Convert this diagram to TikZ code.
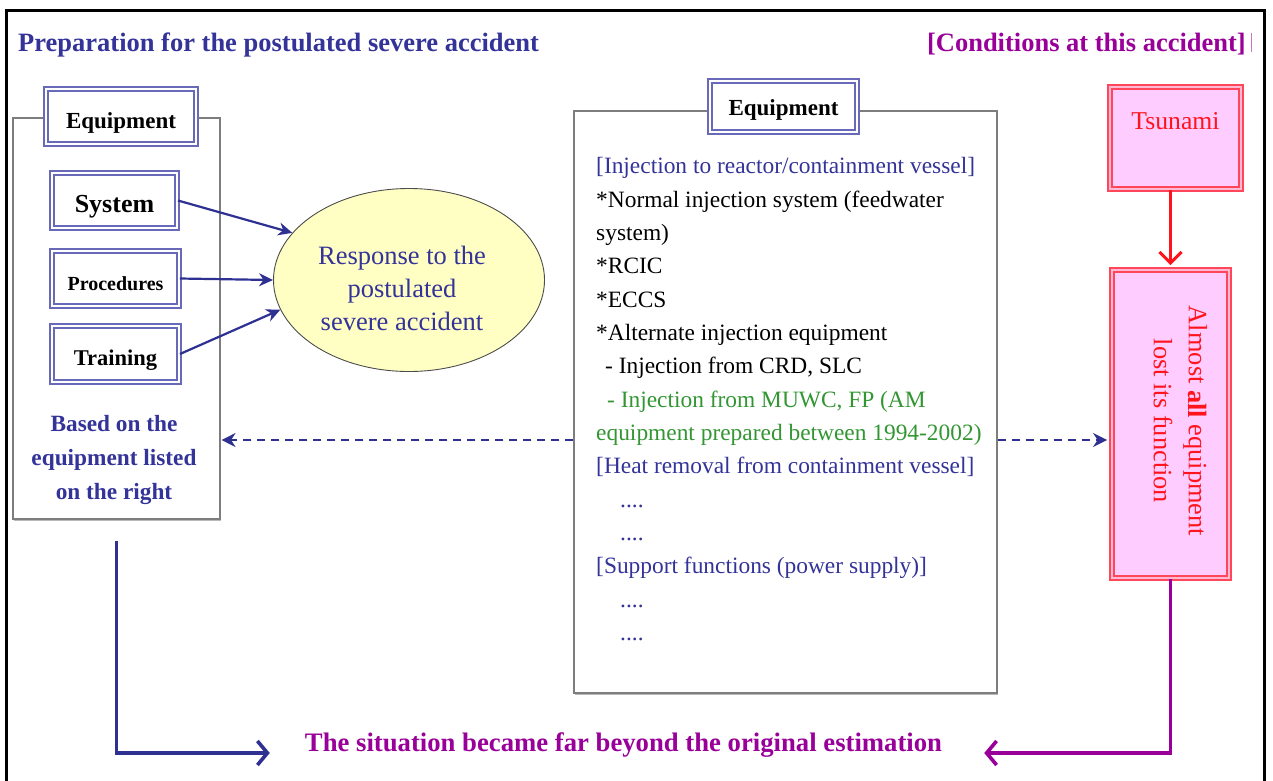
\documentclass[tikz,border=0pt]{standalone}
\usepackage{fontspec}
\setmainfont{Liberation Serif}
\usetikzlibrary{shapes.geometric,arrows.meta,shadows,calc}

\definecolor{navytext}{RGB}{51,51,153}
\definecolor{navyline}{RGB}{46,49,146}
\definecolor{boxblue}{RGB}{105,105,185}
\definecolor{plum}{RGB}{153,0,153}
\definecolor{leafgreen}{RGB}{51,150,51}
\definecolor{alarmred}{RGB}{255,20,30}
\definecolor{redframe}{RGB}{255,70,90}
\definecolor{redgap}{RGB}{255,185,210}
\definecolor{pinkfill}{RGB}{255,204,255}
\definecolor{paleyellow}{RGB}{255,255,196}
\definecolor{panelgray}{RGB}{125,125,125}

\newcommand\fsz[2]{\fontsize{#1}{#2}\selectfont}

\begin{document}
\begin{tikzpicture}[x=1pt,y=-1pt,
  panel/.style={draw=panelgray, line width=1.1pt, fill=white, inner sep=0pt,
    drop shadow={shadow xshift=1.2pt, shadow yshift=-1.8pt, fill=black!55}},
  titlebox/.style={draw=boxblue, line width=1.9pt, double=white, double distance=2pt,
    fill=white, inner sep=0pt, text height=24pt, text depth=0pt,
    font=\fsz{23}{26}\bfseries},
  alarmbox/.style={draw=redframe, line width=1.9pt, double=redgap, double distance=2pt,
    fill=pinkfill, inner sep=0pt},
  listline/.style={anchor=base west, inner sep=0pt, font=\fsz{23.4}{28}},
  navyarrow/.style={draw=navyline, line width=2.2pt,
    -{Stealth[length=14pt,width=13pt,inset=4.5pt]}},
  dashflow/.style={draw=navyline, line width=2pt, dash pattern=on 8pt off 6pt,
    -{Stealth[length=14pt,width=14pt,inset=4.5pt]}},
  navyflow/.style={draw=navyline, line width=3.6pt,
    -{Straight Barb[length=10pt,width=24pt]}},
  plumflow/.style={draw=plum, line width=3.6pt,
    -{Straight Barb[length=10pt,width=24pt]}},
  redflow/.style={draw=alarmred, line width=3pt,
    -{Straight Barb[length=11pt,width=22pt]}}
]
\useasboundingbox (0,0) rectangle (1273,780);

% outer frame (runs past the lower edge of the page)
\draw[line width=3pt] (6.5,10.5) rectangle (1264.5,810);

% headings
\node[anchor=base west, inner sep=0pt, text=navytext, font=\fsz{26.5}{30}\bfseries]
  (preptitle) at (18,51) {Preparation for the postulated severe accident};
\node[anchor=base east, inner sep=0pt, text=plum, font=\fsz{26.5}{30}\bfseries]
  (condtitle) at (1246,51) {[Conditions at this accident]};
\draw[plum!55, line width=0.8pt] ([xshift=5pt,yshift=-1pt]condtitle.north east)
  -- ([xshift=5pt,yshift=3pt]condtitle.south east);

% left column: preparation
\node[panel, minimum width=207pt, minimum height=401pt] (leftpanel) at (116.5,318.5) {};
\node[titlebox, minimum width=150pt, minimum height=55pt] (eqleft) at (121,116.5) {Equipment};
\node[titlebox, minimum width=125pt, minimum height=55pt, font=\fsz{26}{30}\bfseries]
  (sys) at (114.5,200.5) {System};
\node[titlebox, minimum width=127pt, minimum height=55pt, font=\fsz{20}{24}\bfseries]
  (proc) at (115.5,278.5) {Procedures};
\node[titlebox, minimum width=127pt, minimum height=56pt, font=\fsz{22.5}{26}\bfseries,
  text height=22pt] (train) at (115.5,354) {Training};
\node[inner sep=0pt, align=center, text=navytext, font=\fsz{23.3}{34}\bfseries]
  (basedtext) at (114,460) {Based on the\\equipment listed\\on the right};

% response ellipse
\node[ellipse, draw=black!70, line width=0.9pt, fill=paleyellow,
  minimum width=271pt, minimum height=183pt] (resp) at (409,280) {};
\node[inner sep=0pt, align=center, text=navytext, font=\fsz{26.5}{33}]
  (resptext) at (402,288) {Response to the\\postulated\\severe accident};

\draw[navyarrow] (sys.east) -- (resp.158);
\draw[navyarrow] (proc.east) -- (resp.west);
\draw[navyarrow] (train.east) -- (resp.193.6);

% middle column: equipment list
\node[panel, minimum width=423pt, minimum height=582pt] (midpanel) at (785.5,402) {};
\node[titlebox, minimum width=147pt, minimum height=51pt, text height=17pt]
  (eqmid) at (783.5,106.5) {Equipment};

\node[listline, text=navytext] (li0) at (596,173.7) {[Injection to reactor/containment vessel]};
\node[listline] (li1) at (596,207) {*Normal injection system (feedwater};
\node[listline] (li2) at (596,240.3) {system)};
\node[listline] (li3) at (596,273.7) {*RCIC};
\node[listline] (li4) at (596,307) {*ECCS};
\node[listline] (li5) at (596,340.3) {*Alternate injection equipment};
\node[listline] (li6) at (605,373.7) {- Injection from CRD, SLC};
\node[listline, text=leafgreen] (li7) at (607,407) {- Injection from MUWC, FP (AM};
\node[listline, text=leafgreen] (li8) at (596,440.3) {equipment prepared between 1994-2002)};
\node[listline, text=navytext] (li9) at (596,473.7) {[Heat removal from containment vessel]};
\node[listline, text=navytext] (li10) at (620,507) {....};
\node[listline, text=navytext] (li11) at (620,540.3) {....};
\node[listline, text=navytext] (li12) at (596,573.7) {[Support functions (power supply)]};
\node[listline, text=navytext] (li13) at (620,607) {....};
\node[listline, text=navytext] (li14) at (620,640.3) {....};

% right column: conditions at the accident
\node[alarmbox, minimum width=131pt, minimum height=102pt] (tsunami) at (1175.5,138) {};
\node[inner sep=0pt, anchor=base, text=alarmred, font=\fsz{25.7}{30}]
  (tsunamitext) at (1175.5,129) {Tsunami};
\node[alarmbox, minimum width=117pt, minimum height=308pt] (lost) at (1170.5,424) {};
\node[inner sep=0pt, rotate=-90, align=center, text=alarmred, font=\fsz{26.4}{35}]
  (losttext) at (1180.5,421) {Almost \textbf{all} equipment\\lost its function};

\draw[redflow, shorten >=4pt] (lost.north |- tsunami.south) -- (lost.north);

% links from the equipment list
\coordinate (dashrow) at (0,440);
\draw[dashflow, shorten >=1pt] (midpanel.west |- dashrow) -- (leftpanel.east |- dashrow);
\draw[dashflow, shorten >=4pt] (midpanel.east |- dashrow) -- (lost.west |- dashrow);

% conclusion
\node[anchor=base, inner sep=0pt, text=plum, font=\fsz{26.7}{30}\bfseries]
  (situation) at (623.5,751) {The situation became far beyond the original estimation};
\coordinate (botrow) at (0,753);
\draw[navyflow, shorten <=21pt, shorten >=35pt] (leftpanel.south) |- (situation.west |- botrow);
\draw[plumflow, shorten >=42pt] (lost.south) |- (situation.east |- botrow);

\end{tikzpicture}
\end{document}
